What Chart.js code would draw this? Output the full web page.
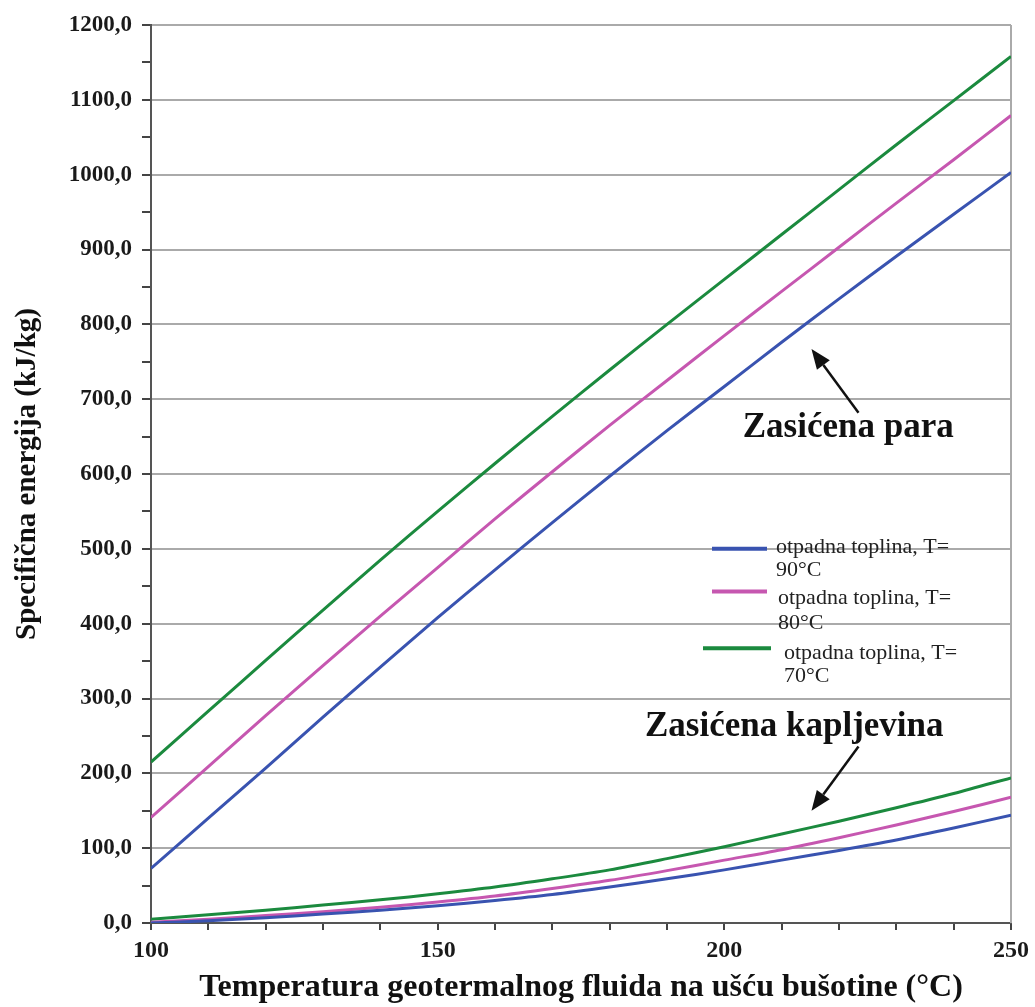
<!DOCTYPE html>
<html>
<head>
<meta charset="utf-8">
<script src="https://cdn.jsdelivr.net/npm/chart.js@4.4.1/dist/chart.umd.min.js"></script>
<style>
  body { margin: 0; background: #fff; }
  #wrap { width: 1035px; height: 1007px; position: relative; }
</style>
</head>
<body>
<div id="wrap"><canvas id="energyChart"></canvas></div>
<script>
// temperature at the well head (x axis)
const temps = [100, 110, 120, 130, 140, 150, 160, 170, 180, 190, 200, 210, 220, 230, 240, 250];

// saturated vapour (upper group)
const vapour90 = [73, 140, 207, 275, 342, 408, 472, 535, 597, 658, 717, 776, 834, 891, 947, 1003];
const vapour80 = [141, 209, 277, 344, 410, 475, 540, 603, 665, 725, 785, 844, 903, 962, 1020, 1079];
const vapour70 = [215, 283, 351, 418, 485, 550, 614, 677, 739, 800, 860, 920, 980, 1040, 1099, 1158];

// saturated liquid (lower group)
const liquid90 = [0, 3, 7, 12, 17, 23, 30, 38, 48, 59, 71, 84, 97, 111, 127, 144];
const liquid80 = [1, 5, 10, 15, 21, 28, 36, 46, 57, 70, 84, 98, 114, 131, 149, 168];
const liquid70 = [5, 11, 17, 24, 31, 39, 48, 59, 71, 86, 102, 119, 136, 154, 173, 194];

const seriesLabels = ['otpadna toplina, T= 90°C', 'otpadna toplina, T= 80°C', 'otpadna toplina, T= 70°C'];
const seriesColors = ['#3953b0', '#c657b0', '#1b8a3e'];

const serif = "'Liberation Serif', 'DejaVu Serif', serif";

function pts(values) {
  return values.map((v, i) => ({ x: temps[i], y: v }));
}

function makeSet(values, k) {
  return {
    label: seriesLabels[k],
    data: pts(values),
    borderColor: seriesColors[k],
    borderWidth: 3,
    pointRadius: 0,
    tension: 0.3,
    fill: false
  };
}

function arrow(ctx, x1, y1, x2, y2) {
  const ang = Math.atan2(y2 - y1, x2 - x1);
  const len = 20, half = 8;
  const bx = x2 - len * Math.cos(ang), by = y2 - len * Math.sin(ang);
  ctx.beginPath();
  ctx.moveTo(x1, y1);
  ctx.lineTo(bx, by);
  ctx.stroke();
  ctx.beginPath();
  ctx.moveTo(x2, y2);
  ctx.lineTo(bx + half * Math.sin(ang), by - half * Math.cos(ang));
  ctx.lineTo(bx - half * Math.sin(ang), by + half * Math.cos(ang));
  ctx.closePath();
  ctx.fill();
}

const overlay = {
  id: 'overlay',
  beforeDatasetsDraw(chart) {
    const { ctx, chartArea: a } = chart;
    ctx.save();
    ctx.strokeStyle = '#aaaaaa';
    ctx.lineWidth = 2;
    ctx.beginPath();
    ctx.moveTo(a.right, a.top);
    ctx.lineTo(a.right, a.bottom);
    ctx.stroke();
    ctx.restore();
  },
  afterDraw(chart) {
    const { ctx, scales: { x, y } } = chart;
    ctx.save();

    // group labels with arrows
    ctx.fillStyle = '#111';
    ctx.strokeStyle = '#111';
    ctx.lineWidth = 2.5;
    ctx.font = 'bold 35px ' + serif;
    ctx.textAlign = 'center';
    ctx.textBaseline = 'middle';
    ctx.fillText('Zasićena para', x.getPixelForValue(221.6), y.getPixelForValue(662));
    arrow(ctx, x.getPixelForValue(223.4), y.getPixelForValue(682), x.getPixelForValue(215.2), y.getPixelForValue(767));
    ctx.fillText('Zasićena kapljevina', x.getPixelForValue(212.2), y.getPixelForValue(262));
    arrow(ctx, x.getPixelForValue(223.4), y.getPixelForValue(236), x.getPixelForValue(215.2), y.getPixelForValue(150));

    // legend box inside the plot
    const textX = [776, 778, 784];
    ctx.font = '22px ' + serif;
    ctx.textAlign = 'left';
    ctx.fillStyle = '#222';
    seriesLabels.forEach((lab, k) => {
      const ly = y.getPixelForValue([500, 443, 367][k]);
      const x0 = k === 2 ? 703 : 712;
      const x1 = k === 2 ? 771 : 767;
      ctx.strokeStyle = seriesColors[k];
      ctx.lineWidth = 4;
      ctx.beginPath();
      ctx.moveTo(x0, ly);
      ctx.lineTo(x1, ly);
      ctx.stroke();
      const parts = lab.split('= ');
      const shift = k === 2 ? 7 : (k === 1 ? 9 : 0);
      ctx.fillText(parts[0] + '=', textX[k], ly - 2 + shift);
      ctx.fillText(parts[1], textX[k], ly + 21 + shift + (k === 1 ? 2 : 0));
    });
    ctx.restore();
  }
};

const chart = new Chart(document.getElementById('energyChart'), {
  type: 'line',
  data: {
    datasets: [
      makeSet(vapour90, 0), makeSet(vapour80, 1), makeSet(vapour70, 2),
      makeSet(liquid90, 0), makeSet(liquid80, 1), makeSet(liquid70, 2)
    ]
  },
  options: {
    responsive: true,
    maintainAspectRatio: false,
    animation: false,
    layout: { padding: { top: 25, right: 22, bottom: 0, left: 0 } },
    plugins: {
      legend: { display: false },
      tooltip: { enabled: false }
    },
    scales: {
      x: {
        type: 'linear',
        min: 100,
        max: 250,
        afterFit: (s) => { s.height = 84; },
        border: { color: '#555', width: 2 },
        grid: { drawOnChartArea: false, tickLength: 7, tickColor: '#444', lineWidth: 2 },
        ticks: {
          stepSize: 10,
          autoSkip: false,
          maxRotation: 0,
          padding: 6,
          color: '#1a1a1a',
          font: { family: serif, size: 24, weight: 'bold' },
          callback: (v) => (v % 50 === 0 ? String(v) : '')
        },
        title: {
          display: true,
          text: 'Temperatura geotermalnog fluida na ušću bušotine (°C)',
          color: '#111',
          padding: { top: 0, bottom: 0 },
          font: { family: serif, size: 32, weight: 'bold' }
        }
      },
      y: {
        min: 0,
        max: 1200,
        afterFit: (s) => { s.width = 151; },
        border: { color: '#555', width: 2 },
        grid: {
          color: (c) => (c.tick && c.tick.value % 100 === 0 ? '#aaaaaa' : 'rgba(0,0,0,0)'),
          lineWidth: 2,
          tickLength: 9,
          tickColor: '#444'
        },
        ticks: {
          stepSize: 50,
          autoSkip: false,
          padding: 10,
          color: '#1a1a1a',
          font: { family: serif, size: 23, weight: 'bold' },
          callback: (v) => (v % 100 === 0 ? v.toFixed(1).replace('.', ',') : '')
        },
        title: {
          display: true,
          text: 'Specifična energija (kJ/kg)',
          color: '#111',
          padding: { top: 10, bottom: 0 },
          font: { family: serif, size: 29, weight: 'bold' }
        }
      }
    }
  },
  plugins: [overlay]
});
</script>
</body>
</html>
